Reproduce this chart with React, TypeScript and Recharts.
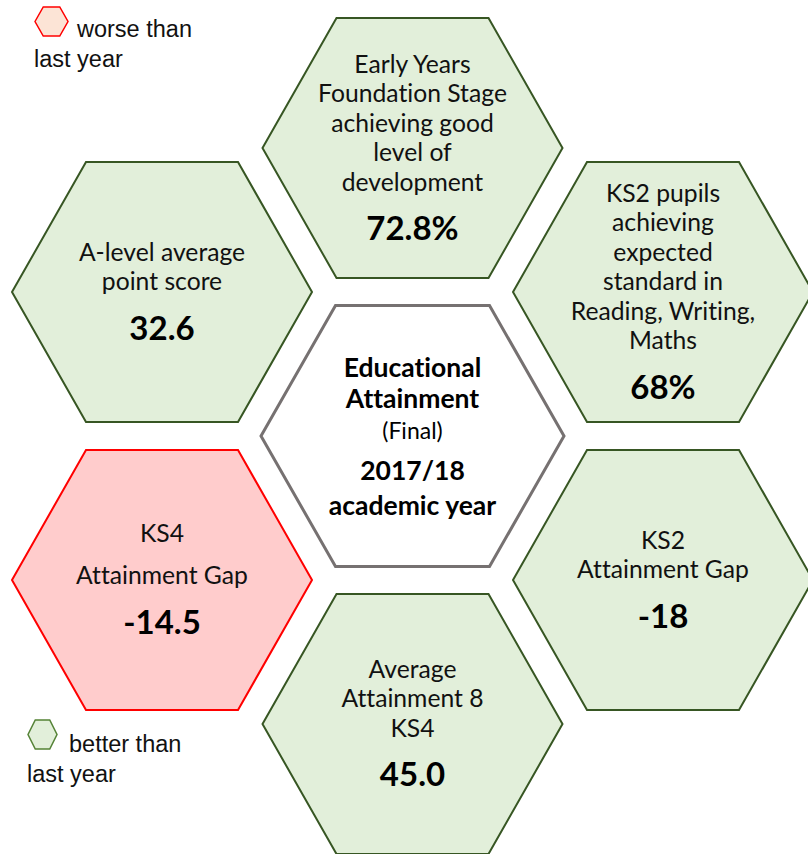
import React from 'react';
import { ScatterChart, Scatter, XAxis, YAxis } from 'recharts';

// honeycomb of indicators, laid out on a column/row grid
const metricNames = ['eyfs', 'alevel', 'ks2rwm', 'centre', 'ks4gap', 'ks2gap', 'att8'];
const gridCols = [1, 0, 2, 1, 0, 2, 1];
const gridRows = [0, 1, 1, 2, 3, 3, 4];
const metricLabels: string[][] = [
    ['Early Years', 'Foundation Stage', 'achieving good', 'level of', 'development'],
    ['A-level average', 'point score'],
    ['KS2 pupils', 'achieving', 'expected', 'standard in', 'Reading, Writing,', 'Maths'],
    [],
    ['KS4', 'Attainment Gap'],
    ['KS2', 'Attainment Gap'],
    ['Average', 'Attainment 8', 'KS4'],
];
const metricValues = ['72.8%', '32.6', '68%', '', '-14.5', '-18', '45.0'];
const metricStatus = ['better', 'better', 'better', 'title', 'worse', 'better', 'better'];
const labelSpacing = [29.5, 29.5, 29.5, 0, 42, 29.5, 29.5];

const titleLines = ['Educational', 'Attainment', '(Final)', '2017/18', 'academic year'];

const W = 808;
const H = 854;
const FONT = 'Lato, "Open Sans", sans-serif';
const noLig = { fontVariantLigatures: 'none' } as React.CSSProperties;

const STYLE: Record<string, { fill: string; stroke: string; width: number }> = {
    better: { fill: '#E2EFDA', stroke: '#375623', width: 2 },
    worse: { fill: '#FFCCCC', stroke: '#FF0000', width: 2 },
    title: { fill: '#FFFFFF', stroke: '#767171', width: 3 },
};

const data = metricNames.map((name, i) => ({
    name,
    col: gridCols[i],
    row: gridRows[i],
    label: metricLabels[i],
    value: metricValues[i],
    status: metricStatus[i],
    spacing: labelSpacing[i],
}));

const hexPoints = (cx: number, cy: number, r: number, flat: number, h: number) =>
    [
        [cx - r, cy],
        [cx - flat, cy - h],
        [cx + flat, cy - h],
        [cx + r, cy],
        [cx + flat, cy + h],
        [cx - flat, cy + h],
    ].map(p => p.join(',')).join(' ');

const HexShape = (props: any) => {
    const { cx, cy, payload } = props;
    const st = STYLE[payload.status];

    if (payload.status === 'title') {
        // centre cell has mixed fonts
        const ys = [-69, -38, -6, 34, 69];
        return (
            <g>
                <polygon points={hexPoints(cx, cy, 151.5, 77, 130.5)} fill={st.fill} stroke={st.stroke} strokeWidth={st.width} />
                {titleLines.map((t, i) => (
                    <text
                        key={t}
                        x={cx}
                        y={cy + ys[i]}
                        textAnchor="middle"
                        dominantBaseline="central"
                        fontFamily={FONT}
                        fontSize={i === 2 ? 23 : 26.5}
                        fontWeight={i === 2 ? 400 : 700}
                        fill="#000"
                        style={noLig}
                    >
                        {t}
                    </text>
                ))}
            </g>
        );
    }

    const lines: string[] = payload.label;
    const span = (lines.length - 1) * payload.spacing + 46;
    const start = cy - 3 - span / 2;
    return (
        <g>
            <polygon points={hexPoints(cx, cy, 150, 76, 130)} fill={st.fill} stroke={st.stroke} strokeWidth={st.width} />
            {lines.map((t, i) => (
                <text
                    key={i}
                    x={cx}
                    y={start + i * payload.spacing}
                    textAnchor="middle"
                    dominantBaseline="central"
                    fontFamily={FONT}
                    fontSize={24.7}
                    fill="#111"
                    style={noLig}
                >
                    {t}
                </text>
            ))}
            <text
                x={cx}
                y={start + span}
                textAnchor="middle"
                dominantBaseline="central"
                fontFamily={FONT}
                fontSize={33}
                fontWeight={700}
                fill="#000"
            >
                {payload.value}
            </text>
        </g>
    );
};

const SmallHex = ({ fill, stroke, w }: { fill: string; stroke: string; w: number }) => (
    <svg width={w + 2} height={31} style={{ display: 'block' }}>
        <polygon points={hexPoints(w / 2 + 1, 15.5, w / 2, w / 4, 14.5)} fill={fill} stroke={stroke} strokeWidth={1.5} />
    </svg>
);

const legendText: React.CSSProperties = {
    position: 'absolute',
    fontFamily: '"Liberation Sans", Arial, sans-serif',
    fontSize: 23.5,
    color: '#111',
    whiteSpace: 'nowrap',
    lineHeight: '30px',
};

export default function App() {
    return (
        <div style={{ position: 'absolute', left: 0, top: 0, width: W, height: H, background: '#fff' }}>
            <ScatterChart width={W} height={H} margin={{ top: 0, right: 0, bottom: 0, left: 0 }}>
                <XAxis type="number" dataKey="col" domain={[-0.6467, 2.5788]} allowDataOverflow hide />
                <YAxis type="number" dataKey="row" domain={[-1.0278, 4.9028]} allowDataOverflow reversed hide />
                <Scatter data={data} shape={HexShape} isAnimationActive={false} />
            </ScatterChart>

            <div style={{ position: 'absolute', left: 34, top: 6 }}>
                <SmallHex fill="#FCE4D6" stroke="#FF0000" w={33} />
            </div>
            <div style={{ ...legendText, left: 77, top: 14 }}>worse than</div>
            <div style={{ ...legendText, left: 34, top: 44 }}>last year</div>

            <div style={{ position: 'absolute', left: 27, top: 719 }}>
                <SmallHex fill="#E2EFDA" stroke="#548235" w={29} />
            </div>
            <div style={{ ...legendText, left: 69, top: 729 }}>better than</div>
            <div style={{ ...legendText, left: 27, top: 759 }}>last year</div>
        </div>
    );
}
